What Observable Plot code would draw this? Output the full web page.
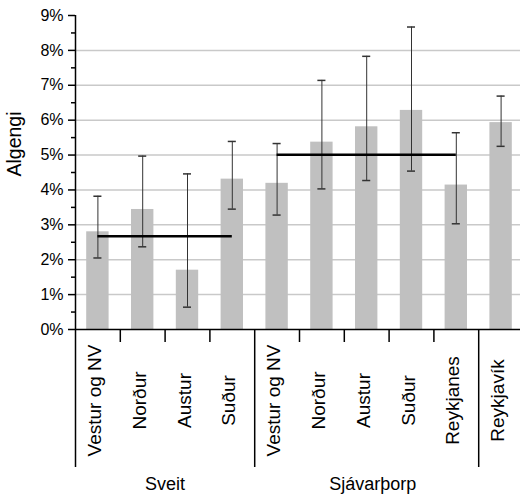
<!DOCTYPE html>
<html><head><meta charset="utf-8">
<script src="https://cdn.jsdelivr.net/npm/d3@7"></script>
<script src="https://cdn.jsdelivr.net/npm/@observablehq/plot@0.6"></script>
<style>
body{margin:0;background:#fff}
svg{display:block}
</style>
</head><body><div id="chart"></div>
<script>
// ---- data ----
const categories = ["Vestur og NV","Norður","Austur","Suður","Vestur og NV","Norður","Austur","Suður","Reykjanes","Reykjavík"];
const groupOf    = ["Sveit","Sveit","Sveit","Sveit","Sjávarþorp","Sjávarþorp","Sjávarþorp","Sjávarþorp","Sjávarþorp",""];
const values     = [2.80, 3.44, 1.70, 4.31, 4.19, 5.37, 5.81, 6.28, 4.14, 5.93];
const lower      = [2.05, 2.37, 0.64, 3.45, 3.28, 4.03, 4.27, 4.54, 3.03, 5.25];
const upper      = [3.82, 4.97, 4.46, 5.39, 5.33, 7.14, 7.83, 8.67, 5.64, 6.69];
const groupNames = ["Sveit","Sjávarþorp"];
const groupMeans = [2.67, 5.01];
const yTicks     = [0,1,2,3,4,5,6,7,8,9];
const yGrid      = [1,2,3,4,5,6,7,8];
const yMinor     = [0.5,1.5,2.5,3.5,4.5,5.5,6.5,7.5,8.5];
const yLabel     = "Algengi";

// ---- derived tables ----
const rows = categories.map((label, i) => ({i, label, group: groupOf[i], value: values[i], lo: lower[i], hi: upper[i]}));
const groups = groupNames.map((name, g) => {
  const idx = rows.filter(r => r.group === name).map(r => r.i);
  return {name, mean: groupMeans[g], first: d3.min(idx), last: d3.max(idx)};
});
const boundaries = d3.range(1, categories.length);
const groupBreaks = boundaries.filter(b => groupOf[b] !== groupOf[b - 1]);
const minorBreaks = boundaries.filter(b => !groupBreaks.includes(b));

// ---- layout ----
const W = 520, H = 496, mT = 15, mB = 167, mL = 75;
const frameH = H - mT - mB;
const font = "Liberation Sans, Arial, Helvetica, sans-serif";
const cap = 0.09;

const chart = Plot.plot({
  width: W, height: H,
  marginTop: mT, marginBottom: mB, marginLeft: mL, marginRight: 0,
  style: {fontFamily: font, background: "#fff", color: "#000"},
  x: {type: "linear", domain: [0, categories.length], range: [mL, 523], axis: null},
  y: {domain: [0, 9]},
  marks: [
    Plot.ruleY(yGrid, {stroke: "#c9c9c9", strokeWidth: 1.5}),
    Plot.rectY(rows, {x1: d => d.i + 0.25, x2: d => d.i + 0.75, y: "value", fill: "#c0c0c0"}),
    Plot.ruleX(rows, {x: d => d.i + 0.5, y1: "lo", y2: "hi", stroke: "#333", strokeWidth: 1}),
    Plot.ruleY(rows, {x1: d => d.i + 0.5 - cap, x2: d => d.i + 0.5 + cap, y: "lo", stroke: "#333", strokeWidth: 1.5}),
    Plot.ruleY(rows, {x1: d => d.i + 0.5 - cap, x2: d => d.i + 0.5 + cap, y: "hi", stroke: "#333", strokeWidth: 1.5}),
    Plot.ruleY(groups, {x1: d => d.first + 0.5, x2: d => d.last + 0.5, y: "mean", stroke: "#000", strokeWidth: 2.5}),
    // axes
    Plot.ruleY([0], {stroke: "#000", strokeWidth: 1.5}),
    Plot.ruleX([0], {stroke: "#000", strokeWidth: 1.5, insetBottom: -138}),
    Plot.ruleX(groupBreaks, {stroke: "#000", strokeWidth: 1.5, insetTop: frameH, insetBottom: -138}),
    Plot.ruleX(minorBreaks, {stroke: "#000", strokeWidth: 1.5, insetTop: frameH, insetBottom: -13}),
    Plot.axisY(yTicks, {tickSize: 7, tickPadding: 5, tickFormat: d => d + "%", fontSize: 16, strokeWidth: 1.5, label: null}),
    Plot.axisY(yMinor, {tickSize: 4, tickFormat: () => "", strokeWidth: 1.5, label: null}),
    Plot.text(rows, {x: d => d.i + 0.5, y: 0, text: "label", rotate: -90, dy: 71, dx: -3, fontSize: 19, fill: "#000"}),
    Plot.text(groups.slice(0, 1), {x: d => (d.first + d.last + 1) / 2, y: 0, text: "name", dy: 155, fontSize: 18, fill: "#000"}),
    Plot.text(groups.slice(1), {x: d => (d.first + d.last + 1) / 2, y: 0, text: "name", dy: 155, dx: 6, fontSize: 18, fill: "#000"}),
    Plot.text([yLabel], {frameAnchor: "left", rotate: -90, dx: -61, dy: 4, fontSize: 19.5, fill: "#000"})
  ]
});
document.getElementById("chart").appendChild(chart);
</script>
</body></html>
